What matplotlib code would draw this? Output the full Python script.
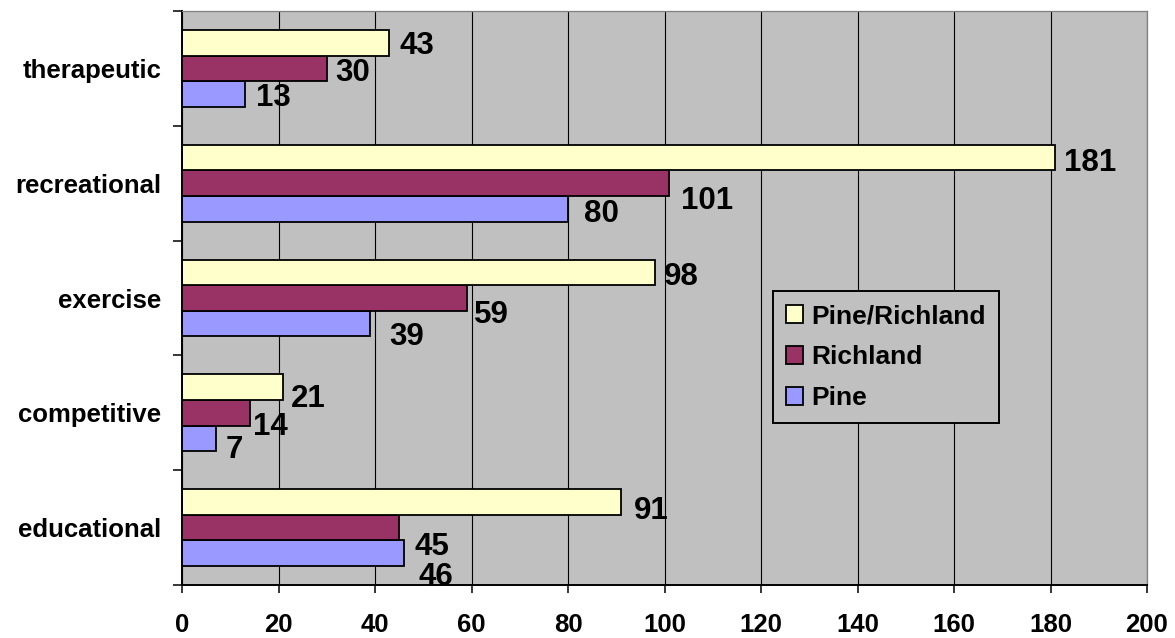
import numpy as np
import matplotlib
matplotlib.use("Agg")
import matplotlib.pyplot as plt

# survey answers per activity type, grouped by area
categories = ["educational", "competitive", "exercise", "recreational", "therapeutic"]
pine = [46, 7, 39, 80, 13]
richland = [45, 14, 59, 101, 30]
pine_richland = [91, 21, 98, 181, 43]

series_names = ["Pine", "Richland", "Pine/Richland"]
series_values = [pine, richland, pine_richland]
series_colors = ["#9999FF", "#993366", "#FFFFCC"]
x_ticks = [0, 20, 40, 60, 80, 100, 120, 140, 160, 180, 200]

# hand placed value labels: pixels right of the bar end / below the bar centre
label_gap = [[17, 12, 21, 18, 13],
             [17, 5, 9, 14, 11],
             [15, 10, 11, 11, 12]]
label_drop = [[21, 8, 10.5, 1.5, 0.5],
              [16, 10.7, 14, 15, 1],
              [6, 8.5, 1, 2, 0]]

plt.rcParams['font.family'] = ['Liberation Sans', 'DejaVu Sans']
plt.rcParams['font.weight'] = 'bold'

W, H = 1175, 638
fig = plt.figure(figsize=(W / 100, H / 100), dpi=100)
ax = fig.add_axes([182 / W, 53 / H, 965 / W, 574 / H])
ax.set_facecolor("#C0C0C0")
ax.set_axisbelow(True)

bar_h = 0.223
y = np.arange(len(categories))
bars = []
for k, (name, vals, col) in enumerate(zip(series_names, series_values, series_colors)):
    pos = y + (k - 1) * bar_h
    b = ax.barh(pos, vals, height=bar_h, color=col, edgecolor="black",
                linewidth=1.3, label=name, zorder=2)
    bars.append(b)
    for i, v in enumerate(vals):
        ax.annotate(str(v), xy=(v, pos[i]), xytext=(label_gap[k][i] - 2, -(label_drop[k][i] + 11.2)),
                    textcoords="offset pixels", ha="left", va="baseline",
                    fontsize=22.5, fontweight="bold", color="black", zorder=3)

ax.set_xlim(0, 200)
ax.set_ylim(-0.5, len(categories) - 0.5)
ax.set_xticks(x_ticks)
ax.set_xticklabels([str(t) for t in x_ticks], fontsize=18.5, fontweight="bold")
ax.tick_params(axis="x", direction="out", length=5.8, width=1.1, pad=14)

ax.set_yticks(y)
ax.set_yticklabels(categories, fontsize=18.5, fontweight="bold")
ax.tick_params(axis="y", which="major", length=0, pad=15)
ax.set_yticks(np.arange(len(categories) + 1) - 0.5, minor=True)
ax.tick_params(axis="y", which="minor", direction="out", length=6.5, width=1.1)

ax.grid(axis="x", color="black", linewidth=0.8)
ax.grid(axis="y", visible=False)

for side in ["left", "bottom"]:
    ax.spines[side].set_color("black")
    ax.spines[side].set_linewidth(1.4)
for side in ["top", "right"]:
    ax.spines[side].set_color("#808080")
    ax.spines[side].set_linewidth(0.9)

leg = ax.legend(bars[::-1], series_names[::-1], loc="upper left",
                bbox_to_anchor=((773 - 182) / 965, (585 - 291) / 574),
                prop={"size": 19, "weight": "bold"}, frameon=True, fancybox=False,
                framealpha=1, facecolor="#C0C0C0", edgecolor="black",
                handlelength=0.65, handleheight=0.65, handletextpad=0.3,
                labelspacing=0.64, borderpad=0.5, borderaxespad=0)
leg.get_frame().set_linewidth(1.4)

fig.savefig("out.png", dpi=100, facecolor="white")
